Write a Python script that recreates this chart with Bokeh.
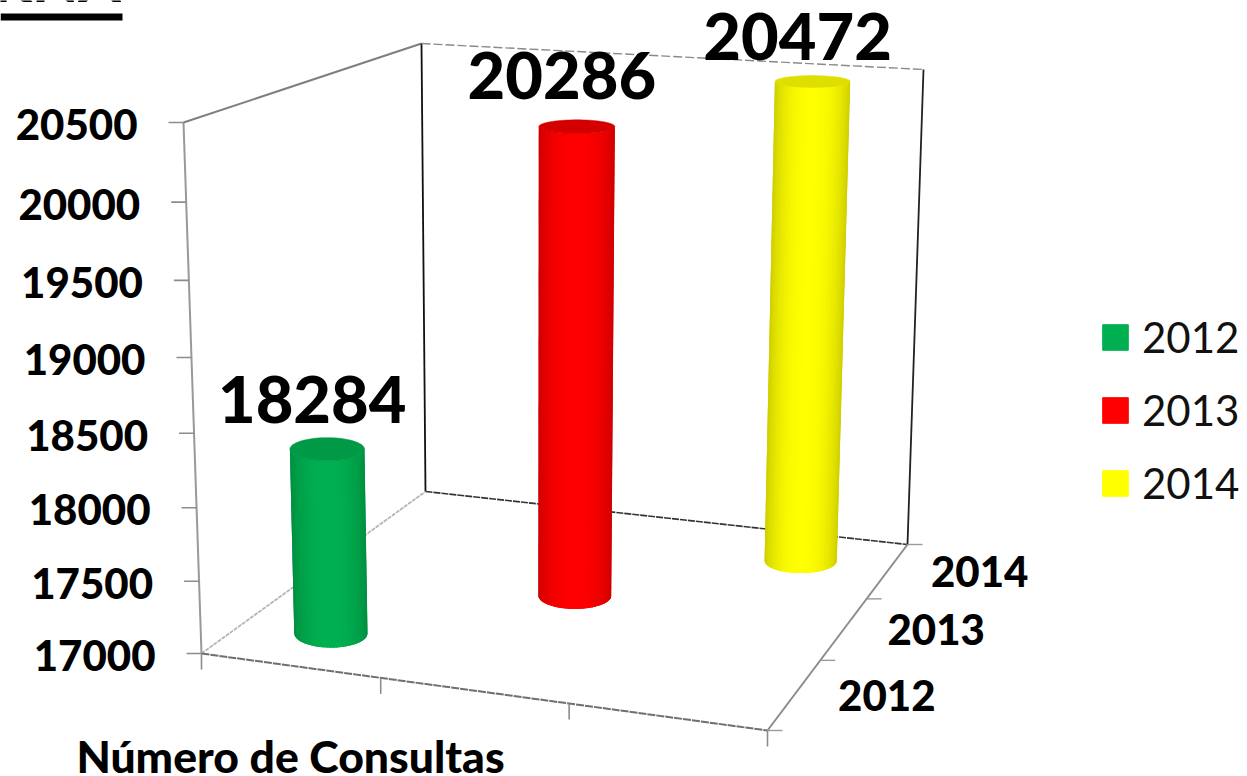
from bokeh.plotting import figure
from bokeh.models import Range1d, Legend, LegendItem
from bokeh.embed import file_html
from bokeh.resources import INLINE
from bokeh.core.properties import value
import numpy as np

# ---- data
years = ["2012", "2013", "2014"]
consultas = [18284, 20286, 20472]
colors = ["#00B050", "#FF0000", "#FFFF00"]
top_colors = ["#009A46", "#D40000", "#DEDE00"]
y_ticks = [17000, 17500, 18000, 18500, 19000, 19500, 20000, 20500]
x_title = "Número de Consultas"
title_fragment = "RNA"

FONT = "Lato"
HEAVY = "Lato Black"
W, H = 1247, 776
Y_MIN, Y_MAX = y_ticks[0], y_ticks[-1]

# ---- the chart's 3-D box as seen on the page
floor_quad = [(201, 653), (767, 730), (907, 544), (425, 491)]
top_quad = [(183, 122), (779, 160), (923, 69), (421, 43)]
PERSP = 1.058


def homography(q):
    src = [(0, 0), (1, 0), (1, 1), (0, 1)]
    A, b = [], []
    for (u, v), (x, y) in zip(src, q):
        A.append([u, v, 1, 0, 0, 0, -u * x, -v * x]); b.append(x)
        A.append([0, 0, 0, u, v, 1, -u * y, -v * y]); b.append(y)
    return np.append(np.linalg.solve(np.array(A, float), np.array(b, float)), 1).reshape(3, 3)


HF, HT = homography(floor_quad), homography(top_quad)


def apply(M, u, w):
    a = M @ np.array([u, w, 1.0])
    return a[:2] / a[2]


def project(u, w, v):
    t = (v - Y_MIN) / (Y_MAX - Y_MIN)
    s = t / (t + PERSP * (1 - t))
    f, g = apply(HF, u, w), apply(HT, u, w)
    return f + (g - f) * s


p = figure(width=W, height=H, x_range=Range1d(0, W), y_range=Range1d(H, 0),
           output_backend="svg", toolbar_location=None, min_border=0,
           outline_line_color=None, x_axis_type=None, y_axis_type=None,
           background_fill_color="white", border_fill_color="white",
           styles={"position": "absolute", "left": "0px", "top": "0px"})
p.xgrid.visible = False
p.ygrid.visible = False


def edge(a, b, color="#8C8C8C", width=1.8, dash="solid", alpha=1.0):
    p.line([a[0], b[0]], [a[1], b[1]], line_color=color, line_width=width,
           line_dash=dash, line_alpha=alpha)


# ---- walls and floor
FL, BL = project(0, 0, Y_MIN), project(0, 1, Y_MIN)
FR, BR = project(1, 0, Y_MIN), project(1, 1, Y_MIN)
FLT, BLT, BRT = project(0, 0, Y_MAX), project(0, 1, Y_MAX), project(1, 1, Y_MAX)
edge(FL, FLT, "#999999", 2.0)
edge(FLT, BLT, "#7F7F7F", 2.0)
edge(BL, BLT, "#111111", 1.8)
edge(BR, BRT, "#222222", 1.8)
edge(BLT, BRT, "#8A8A8A", 1.4, "9 3")
edge(BL, BR, "#333333", 1.6, "7 1")
edge(FL, BL, "#B5B5B5", 1.8, "4 1")
edge(FL, FR, "#6F6F6F", 2.0, "8 1")
edge(FR, BR, "#8C8C8C", 2.0)

# ---- ticks
for v in y_ticks:
    a = project(0, 0, v)
    edge((a[0] - 15, a[1]), a, "#8C8C8C", 1.6)
    p.text([a[0] - 46], [a[1] + 2], text=[f"{v}"], text_font=value(HEAVY), text_font_style="normal",
           text_font_size="42px", text_color="black", text_align="right", text_baseline="middle")
for u in [0, 1 / 3, 2 / 3, 1]:
    a = project(u, 0, Y_MIN)
    edge(a, (a[0], a[1] + 16), "#8C8C8C", 1.6)
for w in [0, 1 / 3, 2 / 3, 1]:
    a = project(1, w, Y_MIN)
    edge(a, (a[0] + 15, a[1]), "#9A9A9A", 1.4)
for i, yr in enumerate(years):
    a = project(1, (i + 0.5) / 3, Y_MIN)
    p.text([a[0] + 92], [a[1] + 1], text=[yr], text_font=value(HEAVY), text_font_style="normal",
           text_font_size="42px", text_color="black", text_align="center", text_baseline="middle")


# ---- cylinders
def shade(hex_color, f):
    rgb = [int(hex_color[i:i + 2], 16) for i in (1, 3, 5)]
    return "#%02X%02X%02X" % tuple(int(round(c * f)) for c in rgb)


R_U, R_W = 0.07, 0.076
N = 36
label_lift = [50, 51, 45]
for i in [2, 1, 0]:
    u = w = (i + 0.5) / 3
    v = consultas[i]
    ends = []
    for val in (Y_MIN, v):
        c = project(u, w, val)
        rx = abs(project(u + R_U, w, val)[0] - project(u - R_U, w, val)[0]) / 2
        ry = abs(project(u, w + R_W, val)[1] - project(u, w - R_W, val)[1]) / 2
        ends.append((c, rx, ry))
    (c0, rx0, ry0), (c1, rx1, ry1) = ends
    th = np.linspace(0, np.pi, N + 1)
    xs, ys, fills = [], [], []
    for k in range(N):
        a, b = th[k], min(th[k + 1] + 0.12, np.pi)
        xs.append([c1[0] + rx1 * np.cos(a), c1[0] + rx1 * np.cos(b),
                   c0[0] + rx0 * np.cos(b), c0[0] + rx0 * np.cos(a)])
        ys.append([c1[1] + ry1 * np.sin(a), c1[1] + ry1 * np.sin(b),
                   c0[1] + ry0 * np.sin(b), c0[1] + ry0 * np.sin(a)])
        m = (th[k] + th[k + 1]) / 2
        fills.append(shade(colors[i], 0.80 + 0.20 * np.sin(m) ** 1.5))
    p.patches(xs, ys, fill_color=fills, line_color=None)
    ang = np.linspace(0, 2 * np.pi, 73)
    p.patch(c1[0] + rx1 * np.cos(ang), c1[1] + ry1 * np.sin(ang), fill_color=top_colors[i],
            line_color=top_colors[i], line_width=0.5)
    p.text([c1[0] - 15], [c1[1] - label_lift[i]], text=[f"{v}"], text_font=value(HEAVY),
           text_font_style="normal", text_font_size="65px", text_color="black",
           text_align="center", text_baseline="middle")

# ---- axis title and clipped page title
p.text([290], [755], text=[x_title], text_font=value(HEAVY), text_font_style="normal",
       text_font_size="44.5px", text_color="black", text_align="center", text_baseline="middle")
p.text([120], [-22], text=[title_fragment], text_font=value(HEAVY), text_font_style="normal",
       text_font_size="60px", text_color="black", text_align="right", text_baseline="alphabetic")
p.line([0, 122], [16.5, 16.5], line_color="black", line_width=7)

# ---- legend
items = []
for yr, col in zip(years, colors):
    r = p.quad(left=[np.nan], right=[np.nan], top=[np.nan], bottom=[np.nan], fill_color=col, line_color=col)
    items.append(LegendItem(label=yr, renderers=[r]))
legend = Legend(items=items, location=(1099, 268), padding=0, margin=0, border_line_color=None,
                background_fill_alpha=0, glyph_width=32, glyph_height=32, label_height=26,
                spacing=23, label_standoff=11, label_text_font=FONT, label_text_font_size="42px",
                label_text_color="#111111", label_text_baseline="middle")
p.add_layout(legend, "center")

open("out.html", "w").write(file_html(p, INLINE))
